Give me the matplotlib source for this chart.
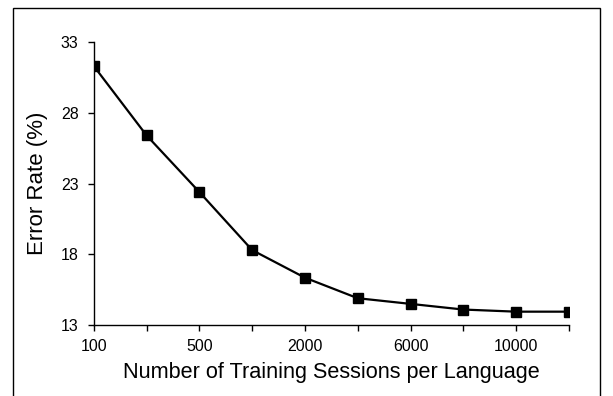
import matplotlib
matplotlib.use("Agg")
import matplotlib.pyplot as plt
import matplotlib.patches as patches

# training sessions per language (only every other one is labelled)
sessions = ["100", "200", "500", "1000", "2000", "4000", "6000", "8000", "10000", "12000"]
tick_labels = ["100", "", "500", "", "2000", "", "6000", "", "10000", ""]
error_rate = [31.3, 26.4, 22.4, 18.3, 16.35, 14.9, 14.5, 14.1, 13.95, 13.95]
y_ticks = [13, 18, 23, 28, 33]

plt.rcParams["font.family"] = ["Liberation Sans", "DejaVu Sans"]

fig = plt.figure(figsize=(6.13, 3.96), dpi=100)
ax = fig.add_axes([0.153, 0.179, 0.775, 0.715])

x = list(range(len(sessions)))
ax.plot(x, error_rate, color="black", linewidth=1.6, marker="s", markersize=6.5)

ax.set_xlim(0, len(sessions) - 1)
ax.set_ylim(13, 33)
ax.set_xticks(x)
ax.set_xticklabels(tick_labels, fontsize=11.5)
ax.set_yticks(y_ticks)
ax.set_yticklabels([str(v) for v in y_ticks], fontsize=11.5)
ax.tick_params(direction="out", length=4, width=1, color="black")
ax.tick_params(axis="x", pad=6)
ax.tick_params(axis="y", pad=7)

for side in ["top", "right"]:
    ax.spines[side].set_visible(False)
for side in ["left", "bottom"]:
    ax.spines[side].set_linewidth(1)

ax.set_xlabel("Number of Training Sessions per Language", fontsize=15.6, labelpad=6)
ax.set_ylabel("Error Rate (%)", fontsize=16, labelpad=9)

# outer frame around the chart
frame = patches.Rectangle(
    (13 / 613, -0.1),
    (600 - 13) / 613,
    1.1 - 8 / 396,
    transform=fig.transFigure,
    fill=False,
    edgecolor="black",
    linewidth=1,
)
fig.patches.append(frame)

fig.savefig("out.png", dpi=100)
